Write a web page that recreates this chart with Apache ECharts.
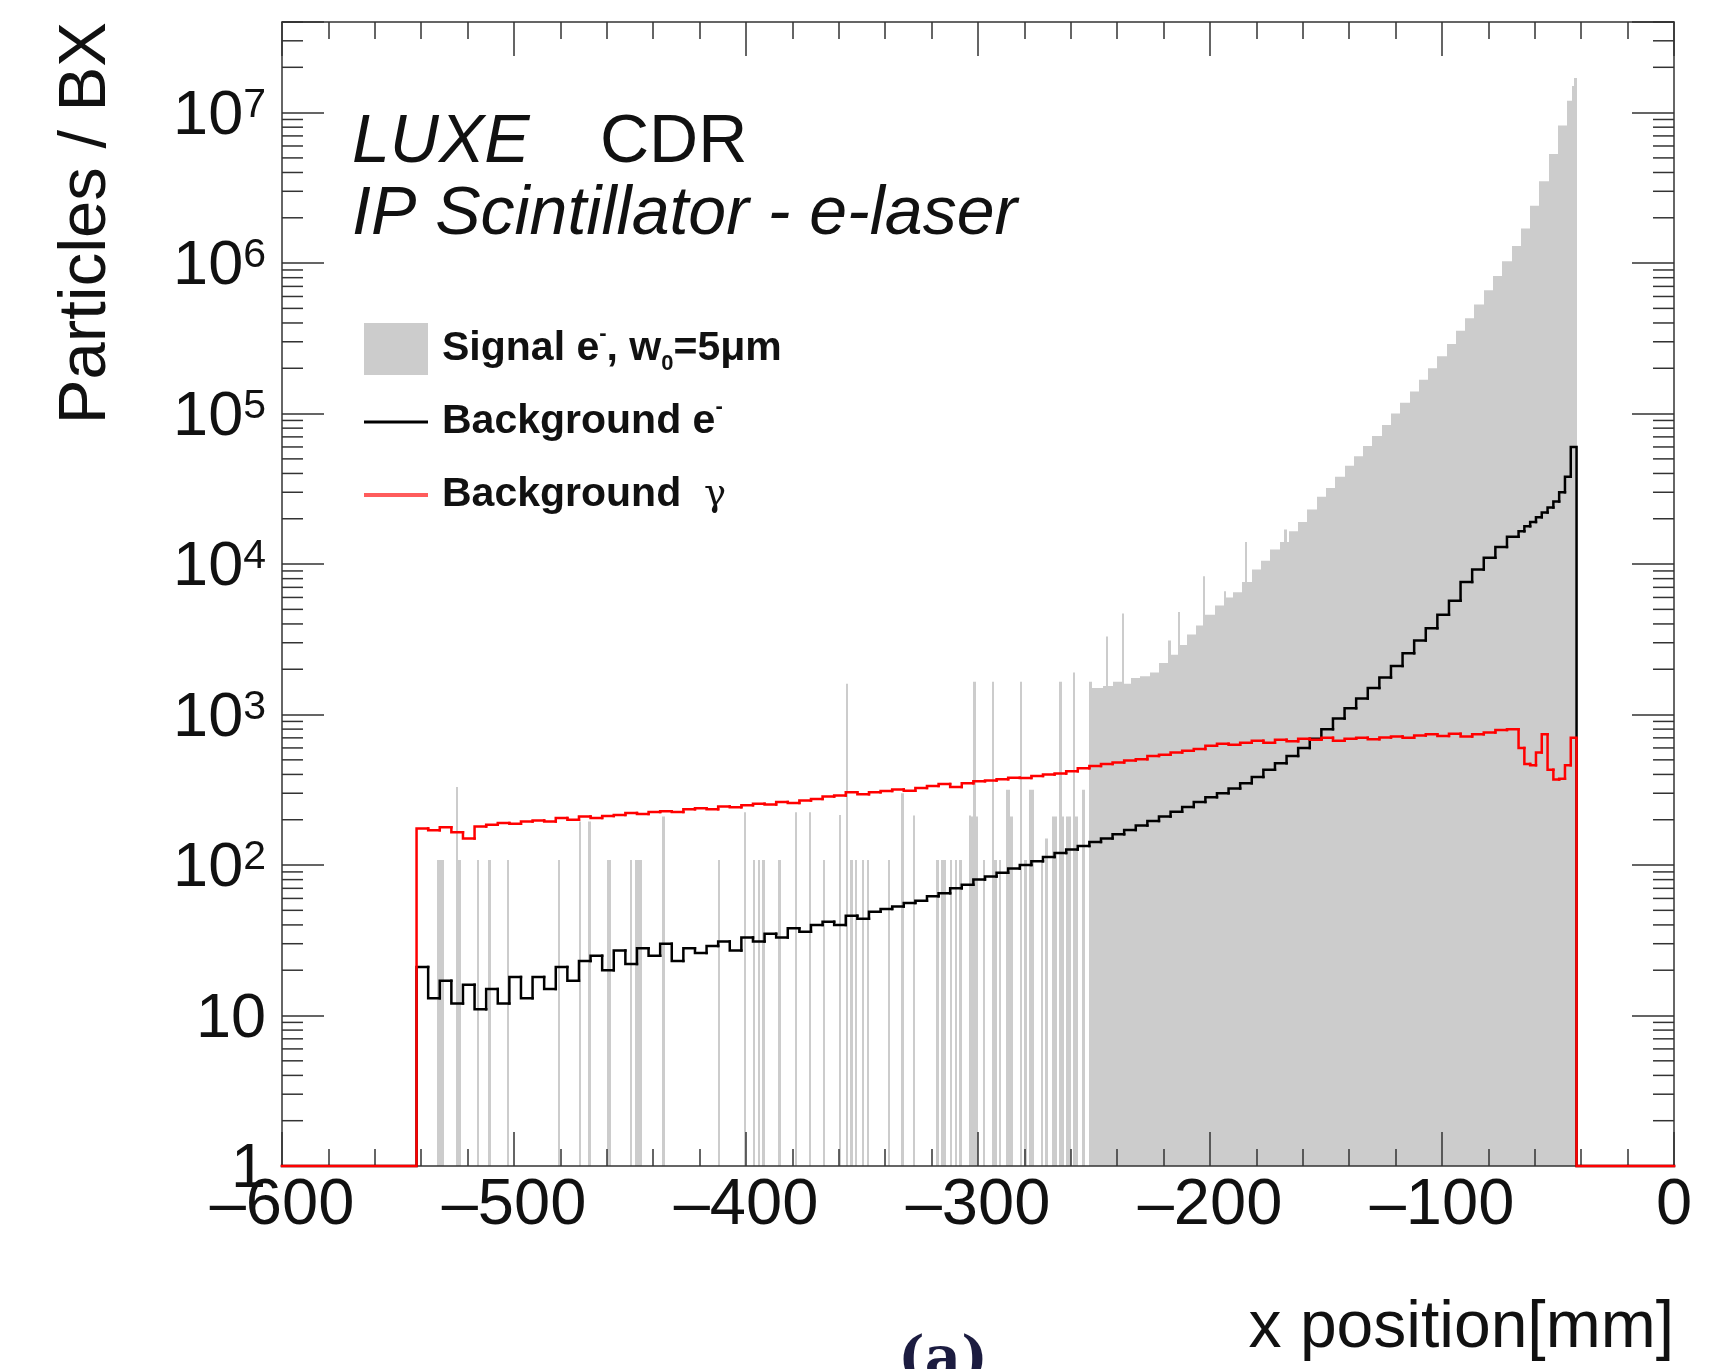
<!DOCTYPE html>
<html>
<head>
<meta charset="utf-8">
<title>LUXE CDR - IP Scintillator - e-laser</title>
<script src="https://cdn.jsdelivr.net/npm/echarts@6/dist/echarts.min.js"></script>
<style>
  html, body { margin: 0; padding: 0; background: #fff; }
  #chart { width: 1716px; height: 1369px; }
</style>
</head>
<body>
<div id="chart"></div>
<script>
// ---------------- data ----------------
// signal e-: isolated 1 mm bins (centre, particles/BX)
const sigSpikeX = [-532.5,-531.5,-530.5,-524.5,-523.5,-515.5,-510.5,-502.5,-480.5,-471.5,
  -467.5,-459.5,-458.5,-449.5,-447.5,-446.5,-445.5,-435.5,-411.5,-400.5,
  -396.5,-394.5,-392.5,-385.5,-378.5,-372.5,-366.5,-359.5,-356.5,-354.5,
  -352.5,-349.5,-347.5,-338.5,-332.5,-327.5,-317.5,-315.5,-314.5,-311.5,
  -309.5,-307.5,-303.5,-302.5,-301.5,-300.5,-297.5,-293.5,-292.5,-290.5,
  -287.5,-286.5,-285.5,-281.5,-279.5,-277.5,-276.5,-272.5,-270.5,-267.5,
  -266.5,-264.5,-263.5,-261.5,-260.5,-258.5,-257.5,-254.5,-251.5,-250.5,
  -244.5,-237.5,-217.5,-213.5,-208.5,-202.5,-193.5,-184.5,-167.5,-43.5,
  -42.5];
const sigSpikeY = [108,108,108,330,108,108,108,108,108,195,
  195,108,108,108,108,108,108,210,108,224,
  108,108,108,108,224,224,108,215,1600,108,
  108,108,108,108,300,213,108,108,108,108,
  108,108,213,210,1650,210,108,1650,108,108,
  316,316,210,1650,108,316,316,108,150,210,
  210,1650,210,210,210,1900,210,316,1650,1500,
  3300,4700,3100,4800,3300,8300,6600,14000,17000,15000000,
  17000000];

// signal e-: dense part, 4 mm bins from -250 mm to -42 mm
const sigDenseStart = -250;
const sigDenseWidth = 4;
const sigDense = [1500,1550,1650,
  1600,1750,1800,1900,2200,2500,2900,3400,3900,4600,
  5300,6000,6500,7600,9200,10500,12500,14000,16500,19000,
  23000,28000,32000,38000,45000,52000,61000,71000,84000,100000,
  118000,140000,168000,200000,240000,290000,355000,430000,530000,660000,
  820000,1030000,1300000,1700000,2400000,3500000,5300000,8200000,12000000];

// background histograms: 5 mm bins from -542 to -67, then 2.5 mm bins to -42
const bkgElectron = [21,13,17,12,16,11,15,12,18,13,
  18,15,21,17,23,25,20,27,22,28,
  25,30,23,28,26,29,31,27,33,31,
  35,33,38,36,40,42,40,46,44,49,
  51,53,56,58,62,65,70,74,80,84,
  89,95,100,106,113,120,127,134,142,150,
  160,171,183,196,210,226,243,262,282,300,
  322,350,385,430,475,530,600,690,800,940,
  1100,1280,1500,1760,2100,2550,3100,3750,4600,5700,
  7600,9200,11000,13000,15200,
  16500,17800,19000,20500,22000,23800,26000,30000,38000,60000];
const bkgGamma = [175,170,178,165,150,180,185,190,188,195,
  198,195,205,200,210,205,212,215,222,218,
  225,228,225,235,238,235,245,242,250,255,
  252,262,258,268,275,285,290,305,295,305,
  310,318,312,325,335,345,330,350,360,365,
  372,380,378,390,400,405,420,440,455,470,
  480,495,505,530,540,560,575,590,620,640,
  630,650,670,650,680,665,690,680,700,670,
  690,700,685,705,715,700,725,740,720,745,
  715,740,760,790,800,
  600,470,460,560,740,430,370,375,460,700];

const seriesNames = ['Signal e-, w0=5um', 'Background e-', 'Background gamma'];
const legendLabels = ['Signal e{sup|-}, w{sub|0}=5{b|\u03bc}m', 'Background e{sup|-}', 'Background  {g|\u03b3}'];

// ---------------- layout / style ----------------
const FONT = '"Liberation Sans", Arial, Helvetica, sans-serif';
const X_MIN = -600, X_MAX = 0, Y_MIN = 1, Y_MAX = 4e7;
const AXIS_COLOR = '#333';
const SIG_COLOR = '#cccccc';

const lineEdges = [];
for (let x = -542; x < -67; x += 5) lineEdges.push(x);
for (let x = -67; x <= -42 + 1e-9; x += 2.5) lineEdges.push(x);

function lineBins(vals) {
  return vals.map((v, i) => [lineEdges[i], lineEdges[i + 1], v, i > 0 ? vals[i - 1] : 0]);
}

const sigBins = sigDense.map((v, i) => [sigDenseStart + i * sigDenseWidth, sigDenseStart + (i + 1) * sigDenseWidth, v])
  .concat(sigSpikeX.map((x, i) => [x - 0.5, x + 0.5, sigSpikeY[i]]));

// log minor ticks 2..9 of every decade
const yMinorTicks = [];
for (let e = 0; e < 8; e++) {
  for (let k = 2; k <= 9; k++) {
    const v = k * Math.pow(10, e);
    if (v <= Y_MAX) yMinorTicks.push(v);
  }
}

function clampY(v) { return v > Y_MIN ? v : Y_MIN; }

function renderSignal(params, api) {
  const a = api.coord([api.value(0), api.value(2)]);
  const b = api.coord([api.value(1), Y_MIN]);
  const x0 = Math.round(a[0]);
  const x1 = Math.max(Math.round(b[0]), x0 + 1);
  return { type: 'rect', shape: { x: x0, y: a[1], width: x1 - x0, height: b[1] - a[1] },
    style: { fill: SIG_COLOR } };
}

function histLine(color, width, n) {
  return function (params, api) {
    const lo = api.value(0), hi = api.value(1);
    const v = clampY(api.value(2)), prev = clampY(api.value(3));
    const pts = [];
    if (params.dataIndex === 0) pts.push(api.coord([X_MIN, Y_MIN]));
    pts.push(api.coord([lo, prev]), api.coord([lo, v]), api.coord([hi, v]));
    if (params.dataIndex === n - 1) pts.push(api.coord([hi, Y_MIN]), api.coord([X_MAX, Y_MIN]));
    return { type: 'polyline', shape: { points: pts },
      style: { stroke: color, lineWidth: width, fill: 'none', lineCap: 'square', lineJoin: 'miter' } };
  };
}

function renderMinorTick(params, api) {
  const y = api.coord([X_MIN, api.value(1)])[1];
  const cs = params.coordSys;
  const L = 21;
  const st = { stroke: AXIS_COLOR, lineWidth: 1.5 };
  return { type: 'group', children: [
    { type: 'line', shape: { x1: cs.x, y1: y, x2: cs.x + L, y2: y }, style: st },
    { type: 'line', shape: { x1: cs.x + cs.width - L, y1: y, x2: cs.x + cs.width, y2: y }, style: st }
  ] };
}

function yLabel(v) {
  const e = Math.log10(v);
  const r = Math.round(e);
  if (Math.abs(e - r) > 1e-6) return '';
  if (r === 0) return '{m|1}';
  if (r === 1) return '{m|10}';
  return '{m|10}{s|' + r + '}';
}

function xAxisCfg(pos, showLabel) {
  return {
    type: 'value', position: pos, min: X_MIN, max: X_MAX, interval: 100, z: 10,
    axisLine: { show: true, onZero: false, lineStyle: { color: AXIS_COLOR, width: 1.5 } },
    axisTick: { show: true, inside: true, length: 34, lineStyle: { color: AXIS_COLOR, width: 1.5 } },
    minorTick: { show: true, splitNumber: 5, length: 17, lineStyle: { color: AXIS_COLOR, width: 1.5 } },
    splitLine: { show: false },
    axisLabel: {
      show: showLabel, margin: 8, fontSize: 65, fontFamily: FONT, color: '#111',
      showMinLabel: true, showMaxLabel: true,
      formatter: v => (v < 0 ? '\u2013' + Math.abs(v) : String(v))
    }
  };
}

function yAxisCfg(pos, showLabel) {
  return {
    type: 'log', logBase: 10, position: pos, min: Y_MIN, max: Y_MAX, z: 10,
    axisLine: { show: true, onZero: false, lineStyle: { color: AXIS_COLOR, width: 1.5 } },
    axisTick: { show: true, inside: true, length: 42, lineStyle: { color: AXIS_COLOR, width: 1.5 } },
    splitLine: { show: false },
    axisLabel: {
      show: showLabel, margin: 16, showMinLabel: true, formatter: yLabel,
      padding: [8, 0, 0, 0],
      rich: {
        m: { fontSize: 63, lineHeight: 63, fontFamily: FONT, color: '#111' },
        s: { fontSize: 41, lineHeight: 20, verticalAlign: 'top', fontFamily: FONT, color: '#111' }
      }
    }
  };
}

const chart = echarts.init(document.getElementById('chart'), null, { renderer: 'canvas' });

const legendFont = { fontFamily: FONT, fontWeight: 'bold', fontSize: 41, lineHeight: 52, color: '#111' };

const option = {
  animation: false,
  backgroundColor: '#fff',
  grid: { left: 282, top: 22, width: 1392, height: 1144, containLabel: false, outerBoundsMode: 'none' },
  xAxis: [xAxisCfg('bottom', true), xAxisCfg('top', false)],
  yAxis: [yAxisCfg('left', true), yAxisCfg('right', false)],
  legend: {
    orient: 'vertical', left: 364, top: 323, padding: 0,
    itemWidth: 64, itemHeight: 52, itemGap: 21, selectedMode: false,
    data: [
      { name: seriesNames[0], icon: 'rect', itemStyle: { color: SIG_COLOR } },
      { name: seriesNames[1], icon: 'path://M0,0H64V3H0Z', itemStyle: { color: '#000' } },
      { name: seriesNames[2], icon: 'path://M0,0H64V4H0Z', itemStyle: { color: '#ff5c5c' } }
    ],
    formatter: name => legendLabels[seriesNames.indexOf(name)],
    textStyle: Object.assign({ padding: [0, 0, 0, 9],
      rich: {
        b: Object.assign({}, legendFont),
        sup: { fontFamily: FONT, fontWeight: 'bold', fontSize: 22, lineHeight: 14, verticalAlign: 'top', color: '#111' },
        sub: { fontFamily: FONT, fontWeight: 'bold', fontSize: 22, lineHeight: 14, verticalAlign: 'bottom', color: '#111' },
        g: { fontFamily: '"DejaVu Serif", serif', fontWeight: 'normal', fontSize: 37, lineHeight: 52, color: '#111' }
      } }, legendFont)
  },
  series: [
    {
      name: seriesNames[0], type: 'custom', xAxisIndex: 0, yAxisIndex: 0, z: 2,
      itemStyle: { color: SIG_COLOR }, encode: { x: [0, 1], y: 2 },
      renderItem: renderSignal, data: sigBins, silent: true
    },
    {
      name: seriesNames[1], type: 'custom', xAxisIndex: 0, yAxisIndex: 0, z: 11,
      itemStyle: { color: '#000' }, encode: { x: [0, 1], y: 2 },
      renderItem: histLine('#000000', 2.5, bkgElectron.length), data: lineBins(bkgElectron), silent: true
    },
    {
      name: seriesNames[2], type: 'custom', xAxisIndex: 0, yAxisIndex: 0, z: 12,
      itemStyle: { color: '#ff0000' }, encode: { x: [0, 1], y: 2 },
      renderItem: histLine('#ff0000', 2.5, bkgGamma.length), data: lineBins(bkgGamma), silent: true
    },
    {
      name: 'minor ticks', type: 'custom', xAxisIndex: 0, yAxisIndex: 0, z: 13,
      encode: { x: 0, y: 1 }, renderItem: renderMinorTick,
      data: yMinorTicks.map(v => [X_MIN, v]), silent: true
    }
  ],
  graphic: [
    { type: 'text', x: 352, y: 109, style: { text: 'LUXE', fontSize: 68, fontFamily: FONT, fontStyle: 'italic', fill: '#111', align: 'left', verticalAlign: 'top' } },
    { type: 'text', x: 600, y: 109, style: { text: 'CDR', fontSize: 68, fontFamily: FONT, fill: '#111', align: 'left', verticalAlign: 'top' } },
    { type: 'text', x: 352, y: 181, style: { text: 'IP Scintillator - e-laser', fontSize: 68, fontFamily: FONT, fontStyle: 'italic', fill: '#111', align: 'left', verticalAlign: 'top' } },
    { type: 'text', x: 53, y: 22, rotation: Math.PI / 2, style: { text: 'Particles / BX', fontSize: 67, fontFamily: FONT, fill: '#111', align: 'right', verticalAlign: 'top' } },
    { type: 'text', x: 1674, y: 1296, style: { text: 'x position[mm]', fontSize: 66, fontFamily: FONT, fill: '#111', align: 'right', verticalAlign: 'top' } },
    { type: 'text', x: 943, y: 1333, style: { text: '(a)', fontSize: 56, fontFamily: '"DejaVu Serif", "Liberation Serif", serif', fontWeight: 'bold', fill: '#1c1c40', align: 'center', verticalAlign: 'top' } }
  ]
};

chart.setOption(option);
</script>
</body>
</html>
